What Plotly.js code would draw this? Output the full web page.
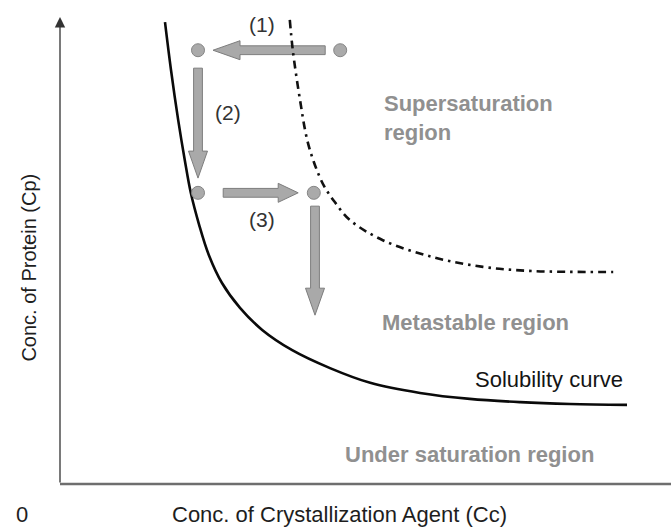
<!DOCTYPE html>
<html>
<head>
<meta charset="utf-8">
<script src="https://cdn.plot.ly/plotly-3.0.1.min.js"></script>
<style>html,body{margin:0;padding:0;background:#fff;}#chart{width:671px;height:528px;}</style>
</head>
<body>
<div id="chart"></div>
<script>
// ---- Data (schematic phase diagram, arbitrary units) ----
// Solubility curve: Cp vs Cc
const solCc = [1.75, 1.85, 1.97, 2.08, 2.18, 2.32, 2.48, 2.70, 3.00, 3.37, 3.87, 4.50, 5.17, 6.00, 6.83, 7.67, 8.50, 9.45];
const solCp = [10.04, 9.00, 7.91, 7.04, 6.33, 5.63, 4.98, 4.37, 3.83, 3.35, 2.91, 2.52, 2.20, 1.98, 1.85, 1.78, 1.74, 1.72];
// Supersolubility (metastable limit) curve
const supCc = [3.83, 3.88, 4.00, 4.12, 4.25, 4.40, 4.58, 4.83, 5.38, 6.22, 7.05, 7.88, 9.22];
const supCp = [10.09, 9.43, 8.35, 7.48, 6.93, 6.48, 6.13, 5.74, 5.30, 4.93, 4.72, 4.63, 4.61];
// Experiment states (circles)
const stateCc = [2.30, 4.67, 2.30, 4.23];
const stateCp = [9.43, 9.43, 6.33, 6.33];
// Process arrows: tail -> tip
const arrowFromCc = [4.42, 2.30, 2.72, 4.25];
const arrowFromCp = [9.43, 9.04, 6.33, 6.04];
const arrowToCc   = [2.55, 2.30, 3.97, 4.25];
const arrowToCp   = [9.43, 6.65, 6.33, 3.67];
// Step labels
const stepLabels = ['(1)', '(2)', '(3)'];
const stepCc = [3.37, 2.80, 3.37];
const stepCp = [10.00, 8.07, 5.76];
// Region labels
const regionLabels = ['Supersaturation<br>region', 'Metastable region', 'Under saturation region'];
const regionCc = [5.36, 5.33, 4.72];
const regionCp = [7.96, 3.52, 0.64];
const curveLabel = 'Solubility curve';
const xTitle = 'Conc. of Crystallization Agent (Cc)';
const yTitle = 'Conc. of Protein (Cp)';
const originLabel = '0';

// ---- Layout geometry ----
const W = 671, H = 528;
const PX_X = 60, PX_Y = 46;          // pixels per unit
const XMIN = -1, XMAX = (W - 60) / PX_X;
const YMIN = -44 / PX_Y, YMAX = 484 / PX_Y;
const FONT = 'Liberation Sans, Arial, Helvetica, sans-serif';

function blockArrow(x0, y0, x1, y1, shaftHalf, headHalf, headLen) {
  const dx = (x1 - x0) * PX_X, dy = (y1 - y0) * PX_Y;
  const L = Math.hypot(dx, dy);
  const ux = dx / L, uy = dy / L, nx = -uy, ny = ux;
  const pts = [
    [nx * shaftHalf, ny * shaftHalf],
    [ux * (L - headLen) + nx * shaftHalf, uy * (L - headLen) + ny * shaftHalf],
    [ux * (L - headLen) + nx * headHalf, uy * (L - headLen) + ny * headHalf],
    [ux * L, uy * L],
    [ux * (L - headLen) - nx * headHalf, uy * (L - headLen) - ny * headHalf],
    [ux * (L - headLen) - nx * shaftHalf, uy * (L - headLen) - ny * shaftHalf],
    [-nx * shaftHalf, -ny * shaftHalf]
  ];
  return 'M' + pts.map(p => (x0 + p[0] / PX_X).toFixed(4) + ',' + (y0 + p[1] / PX_Y).toFixed(4)).join(' L') + ' Z';
}

const shapes = [];
// x axis line
shapes.push({type: 'line', xref: 'x', yref: 'y', x0: 0, x1: XMAX, y0: 0, y1: 0,
  line: {color: '#6e6e6e', width: 2.5}, layer: 'below'});
// process arrows
for (let i = 0; i < arrowFromCc.length; i++) {
  const headLen = i === 2 ? 20 : 27;
  shapes.push({type: 'path', xref: 'x', yref: 'y',
    path: blockArrow(arrowFromCc[i], arrowFromCp[i], arrowToCc[i], arrowToCp[i], 4.4, 9.5, headLen),
    fillcolor: '#a9a9a9', line: {color: '#7d7d7d', width: 1}, layer: 'below'});
}

const annotations = [];
// y axis with arrow head
annotations.push({x: 0, y: 10.15, ax: 0, ay: 0, axref: 'x', ayref: 'y', xref: 'x', yref: 'y',
  text: '', showarrow: true, arrowhead: 2, arrowsize: 1.6, arrowwidth: 1.3, arrowcolor: '#333'});
stepLabels.forEach((t, i) => annotations.push({x: stepCc[i], y: stepCp[i], xref: 'x', yref: 'y',
  text: t, showarrow: false, font: {family: FONT, size: 21, color: '#333'}, xanchor: 'center', yanchor: 'middle'}));
regionLabels.forEach((t, i) => annotations.push({x: regionCc[i], y: regionCp[i], xref: 'x', yref: 'y',
  text: t, showarrow: false, align: 'left', font: {family: FONT, size: 22, color: '#909090', weight: 'bold'},
  xanchor: 'left', yanchor: 'middle'}));
annotations.push({x: 9.42, y: 2.27, xref: 'x', yref: 'y', text: curveLabel, showarrow: false,
  font: {family: FONT, size: 22, color: '#141414'}, xanchor: 'right', yanchor: 'middle'});
annotations.push({x: 4.65, y: -0.67, xref: 'x', yref: 'y', text: xTitle, showarrow: false,
  font: {family: FONT, size: 22, color: '#1e1e1e'}, xanchor: 'center', yanchor: 'middle'});
annotations.push({x: -0.52, y: 4.70, xref: 'x', yref: 'y', text: yTitle, showarrow: false, textangle: -90,
  font: {family: FONT, size: 20, color: '#1e1e1e'}, xanchor: 'center', yanchor: 'middle'});
annotations.push({x: -0.63, y: -0.67, xref: 'x', yref: 'y', text: originLabel, showarrow: false,
  font: {family: FONT, size: 22, color: '#1e1e1e'}, xanchor: 'center', yanchor: 'middle'});

const traces = [
  {x: solCc, y: solCp, mode: 'lines', line: {color: '#0a0a0a', width: 2.6, shape: 'spline', smoothing: 1},
   hoverinfo: 'skip', cliponaxis: false, name: 'Solubility curve'},
  {x: supCc, y: supCp, mode: 'lines', line: {color: '#111', width: 2.6, dash: '8px,5px,2.5px,5px', shape: 'spline', smoothing: 1},
   hoverinfo: 'skip', cliponaxis: false, name: 'Supersolubility curve'},
  {x: stateCc, y: stateCp, mode: 'markers', marker: {size: 13, color: '#aaaaaa', line: {color: '#858585', width: 1}},
   hoverinfo: 'skip', cliponaxis: false, name: 'States'}
];

const layout = {
  width: W, height: H,
  margin: {l: 0, r: 0, t: 0, b: 0, pad: 0},
  paper_bgcolor: '#ffffff', plot_bgcolor: '#ffffff',
  showlegend: false,
  xaxis: {range: [XMIN, XMAX], visible: false, fixedrange: true},
  yaxis: {range: [YMIN, YMAX], visible: false, fixedrange: true},
  shapes: shapes,
  annotations: annotations
};

Plotly.newPlot('chart', traces, layout, {staticPlot: true, displayModeBar: false});
</script>
</body>
</html>
